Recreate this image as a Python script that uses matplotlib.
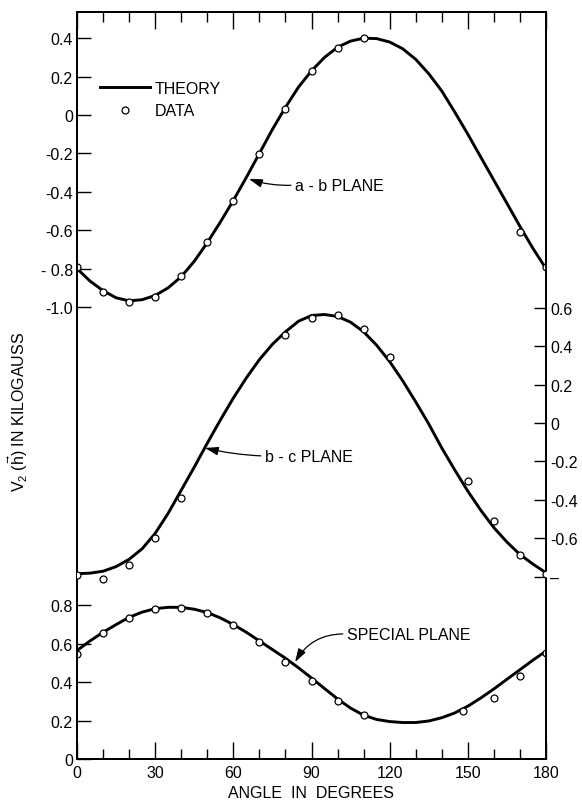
import numpy as np
import matplotlib
matplotlib.use("Agg")
import matplotlib.pyplot as plt
from matplotlib.lines import Line2D
from matplotlib.ticker import MultipleLocator, FixedLocator, FixedFormatter

# theory curves, read every 5 degrees
theta = np.arange(0, 181, 5)
ab_theory = [-0.80, -0.865, -0.915, -0.952, -0.968, -0.962, -0.94, -0.90, -0.842, -0.762,
             -0.665, -0.558, -0.445, -0.325, -0.20, -0.075, 0.04, 0.145, 0.23, 0.30,
             0.353, 0.385, 0.40, 0.398, 0.38, 0.345, 0.29, 0.215, 0.125, 0.015,
             -0.10, -0.22, -0.34, -0.46, -0.58, -0.695, -0.80]
bc_theory = [-0.785, -0.782, -0.772, -0.748, -0.71, -0.655, -0.575, -0.47, -0.35, -0.23,
             -0.105, 0.015, 0.13, 0.235, 0.33, 0.41, 0.475, 0.53, 0.56, 0.565,
             0.555, 0.525, 0.475, 0.405, 0.32, 0.22, 0.11, -0.005, -0.13, -0.245,
             -0.355, -0.455, -0.545, -0.62, -0.685, -0.735, -0.78]
sp_theory = [0.565, 0.615, 0.66, 0.70, 0.738, 0.765, 0.783, 0.79, 0.79, 0.78,
             0.763, 0.735, 0.70, 0.66, 0.615, 0.57, 0.525, 0.475, 0.422, 0.367,
             0.313, 0.265, 0.228, 0.206, 0.195, 0.19, 0.19, 0.198, 0.215, 0.24,
             0.275, 0.318, 0.365, 0.415, 0.465, 0.515, 0.562]

# measured points
ab_angle = [0, 10, 20, 30, 40, 50, 60, 70, 80, 90, 100, 110, 170, 180]
ab_data = [-0.79, -0.92, -0.975, -0.95, -0.84, -0.663, -0.45, -0.203, 0.03, 0.23,
           0.35, 0.40, -0.61, -0.79]
bc_angle = [0, 10, 20, 30, 40, 80, 90, 100, 110, 120, 150, 160, 170, 180]
bc_data = [-0.79, -0.815, -0.74, -0.60, -0.39, 0.458, 0.545, 0.562, 0.49, 0.345,
           -0.30, -0.51, -0.69, -0.785]
sp_angle = [0, 10, 20, 30, 40, 50, 60, 70, 80, 90, 100, 110, 148, 160, 170, 180]
sp_data = [0.547, 0.656, 0.734, 0.78, 0.786, 0.76, 0.70, 0.61, 0.507, 0.408,
           0.30, 0.231, 0.248, 0.32, 0.43, 0.55]

ab_ticks = [-1.0, -0.8, -0.6, -0.4, -0.2, 0, 0.2, 0.4]
ab_labels = ["-1.0", "- 0.8", "-0.6", "-0.4", "-0.2", "0", "0.2", "0.4"]
bc_ticks = [-0.8, -0.6, -0.4, -0.2, 0, 0.2, 0.4, 0.6]
bc_labels = ["\u2013", "-0.6", "-0.4", "-0.2", "0", "0.2", "0.4", "0.6"]
sp_ticks = [0, 0.2, 0.4, 0.6, 0.8]
sp_labels = ["0", "0.2", "0.4", "0.6", "0.8"]

plt.rcParams['font.family'] = ['Liberation Sans', 'DejaVu Sans']
plt.rcParams['font.size'] = 11.5
plt.rcParams['mathtext.fontset'] = 'custom'
plt.rcParams['mathtext.rm'] = 'Liberation Sans'
plt.rcParams['mathtext.it'] = 'Liberation Sans'
plt.rcParams['mathtext.default'] = 'regular'

W, H = 582, 803
fig = plt.figure(figsize=(W / 100, H / 100), dpi=100)
ax = fig.add_axes([77 / W, 43 / H, 469 / W, 747 / H])
ax_ab = ax.twinx()
ax_bc = ax.twinx()

# all three curves share one vertical scale (192 px per kG), just shifted
px = 192.0
ax.set_ylim(0, 747 / px)
ax_ab.set_ylim(-(760 - 116) / px, (116 - 13) / px)
ax_bc.set_ylim(-(760 - 424) / px, (424 - 13) / px)
ax.set_xlim(0, 180)

lw = 2.1
mk = dict(ls='none', marker='o', ms=5, mfc='white', mec='black', mew=0.9, zorder=5)
ax_ab.plot(theta, ab_theory, color='black', lw=lw, solid_joinstyle='round')
ax_ab.plot(ab_angle, ab_data, **mk)
ax_bc.plot(theta, bc_theory, color='black', lw=lw, solid_joinstyle='round')
ax_bc.plot(bc_angle, bc_data, **mk)
ax.plot(theta, sp_theory, color='black', lw=lw, solid_joinstyle='round')
ax.plot(sp_angle, sp_data, **mk)

ax.xaxis.set_major_locator(MultipleLocator(30))
ax.xaxis.set_minor_locator(MultipleLocator(10))
ax.tick_params(axis='x', which='both', direction='in', top=True, bottom=True, width=1, pad=4)
ax.tick_params(axis='x', which='major', length=12)
ax.tick_params(axis='x', which='minor', length=7)

ax.yaxis.set_major_locator(FixedLocator(sp_ticks))
ax.yaxis.set_major_formatter(FixedFormatter(sp_labels))
ax.tick_params(axis='y', direction='in', length=10, width=1, left=True, right=False, pad=3)

ax_ab.yaxis.tick_left()
ax_ab.yaxis.set_major_locator(FixedLocator(ab_ticks))
ax_ab.yaxis.set_major_formatter(FixedFormatter(ab_labels))
ax_ab.tick_params(axis='y', direction='in', length=10, width=1, pad=3)

ax_bc.yaxis.set_major_locator(FixedLocator(bc_ticks))
ax_bc.yaxis.set_major_formatter(FixedFormatter(bc_labels))
ax_bc.tick_params(axis='y', direction='in', length=8.5, width=1, pad=3)

for a in (ax, ax_ab, ax_bc):
    for s in a.spines.values():
        s.set_linewidth(1.3)

ax.set_xlabel("ANGLE  IN  DEGREES", labelpad=4)
fig.text(18 / W, 1 - 412 / H, r"V$_2$ ($\vec{h}$) IN KILOGAUSS", rotation=90,
         ha='center', va='center')

# legend
handles = [Line2D([], [], color='black', lw=lw),
           Line2D([], [], ls='none', marker='o', ms=5, mfc='white', mec='black', mew=0.9)]
fig.legend(handles, ["THEORY", "DATA"], loc='upper left',
           bbox_to_anchor=(100 / W, 1 - 82 / H), frameon=False, borderpad=0,
           borderaxespad=0, handlelength=3.1, handletextpad=0.35, labelspacing=0.45)

arrow = dict(arrowstyle='-|>,head_length=0.7,head_width=0.22', color='black', lw=0.9,
             shrinkA=1, shrinkB=0, relpos=(0, 0.5))
ax_ab.annotate("a - b PLANE", xy=(66, -0.333), xytext=(83.7, -0.365),
               ha='left', va='center',
               arrowprops=dict(arrow, connectionstyle='arc3,rad=-0.1'))
ax_bc.annotate("b - c PLANE", xy=(49.1, -0.13), xytext=(72.1, -0.172),
               ha='left', va='center',
               arrowprops=dict(arrow, connectionstyle='arc3,rad=-0.05'))
ax.annotate("SPECIAL PLANE", xy=(83.7, 0.505), xytext=(103.6, 0.651),
            ha='left', va='center',
            arrowprops=dict(arrow, connectionstyle='arc3,rad=0.3'))

fig.savefig("out.png", dpi=100)
